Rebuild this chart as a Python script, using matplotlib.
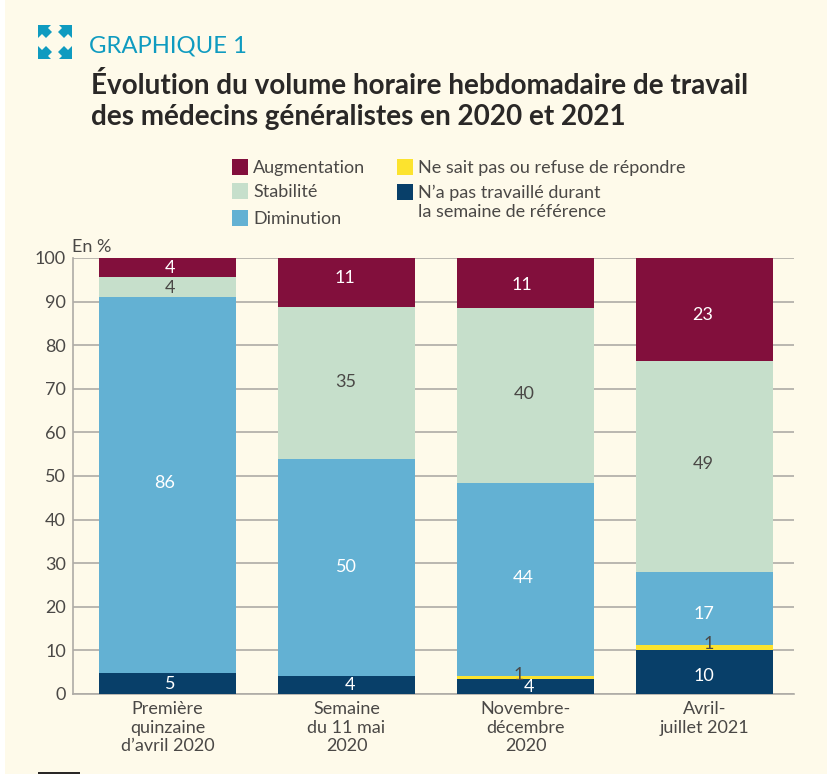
import matplotlib
matplotlib.use('Agg')
import matplotlib.pyplot as plt
from matplotlib.patches import Polygon, Rectangle

plt.rcParams['font.family'] = ['Lato', 'DejaVu Sans']

periods = ['Première\nquinzaine\nd\u2019avril 2020', 'Semaine\ndu 11 mai\n2020', 'Novembre-\ndécembre\n2020', 'Avril-\njuillet 2021']
absent = [4.8, 4.1, 3.4, 10.0]
no_answer = [0, 0, 0.8, 1.2]
decrease = [86.2, 49.8, 44.2, 16.8]
stable = [4.6, 34.9, 40.1, 48.4]
increase = [4.4, 11.2, 11.5, 23.6]

absent_labels = ['5', '4', '4', '10']
no_answer_labels = ['', '', '1', '1']
decrease_labels = ['86', '50', '44', '17']
stable_labels = ['4', '35', '40', '49']
increase_labels = ['4', '11', '11', '23']

# the labels are not centred in the original, nudge them (pixels)
absent_nudge = [(2.5, 0), (3.5, 0), (3.5, 0), (-0.5, -4)]
no_answer_nudge = [(0, 0), (0, 0), (-6.5, 2), (4.5, 4)]
decrease_nudge = [(-2.5, 2), (-0.5, 1), (-2.5, 1), (-0.5, -5)]
stable_nudge = [(2.5, -1), (-0.5, 1), (-1.5, 2), (-1.5, 2)]
increase_nudge = [(2.5, 0), (-1.5, 4), (-3.5, -2), (-1.5, -6)]

yticks = list(range(0, 101, 10))

W, H = 827, 774
CREAM = '#fefaea'
TEXT = '#4a4846'
GRID = '#aeaba6'
FS = 13


def fx(px):
    return px / W


def fy(py):
    return 1 - py / H


fig = plt.figure(figsize=(W / 100, H / 100), dpi=100, facecolor='white')
fig.patches.append(Rectangle((fx(5), 0), 1, 1, transform=fig.transFigure, facecolor=CREAM, edgecolor='none', zorder=-5))

ax = fig.add_axes([fx(73), fy(694), (794 - 73) / W, (694 - 258) / H])
ax.set_facecolor('none')
x = list(range(4))
width = 137 / 179
series = [
    (absent, '#083f69', absent_labels, 'white', absent_nudge),
    (no_answer, '#fce32e', no_answer_labels, TEXT, no_answer_nudge),
    (decrease, '#63b1d3', decrease_labels, 'white', decrease_nudge),
    (stable, '#c6dfcb', stable_labels, TEXT, stable_nudge),
    (increase, '#820f3c', increase_labels, 'white', increase_nudge),
]
bottom = [0, 0, 0, 0]
for values, color, labels, txt, nudge in series:
    ax.bar(x, values, width, bottom=bottom, color=color, zorder=3)
    for i in x:
        if labels[i]:
            ax.annotate(labels[i], (i, bottom[i] + values[i] / 2), xytext=(nudge[i][0] * 0.72, nudge[i][1] * 0.72),
                        textcoords='offset points', ha='center', va='center', color=txt, fontsize=FS, zorder=4)
    bottom = [b + v for b, v in zip(bottom, values)]

ax.set_xlim(-94.5 / 179, 626.5 / 179)
ax.set_ylim(0, 100)
ax.set_yticks(yticks)
ax.set_xticks(x)
ax.set_xticklabels(periods, fontsize=FS, color=TEXT, linespacing=1.2)
ax.tick_params(axis='x', length=0, pad=5)
ax.tick_params(axis='y', length=0, pad=5, labelsize=FS, labelcolor=TEXT)
ax.grid(axis='y', color=GRID, linewidth=1.2, zorder=1)
ax.set_axisbelow(True)
for side in ['top', 'right']:
    ax.spines[side].set_visible(False)
for side in ['left', 'bottom']:
    ax.spines[side].set_color(GRID)
    ax.spines[side].set_linewidth(1.2)

fig.text(fx(72), fy(247), 'En %', fontsize=FS, color=TEXT, va='center')

# header
fig.text(fx(89), fy(46), 'GRAPHIQUE 1', fontsize=17.2, color='#0f9bc0', va='center')
fig.text(fx(91), fy(85), 'Évolution du volume horaire hebdomadaire de travail', fontsize=20.1,
         fontweight='bold', color='#2a2827', va='center')
fig.text(fx(91), fy(117), 'des médecins généralistes en 2020 et 2021', fontsize=20.1,
         fontweight='bold', color='#2a2827', va='center')

# expand icon, four arrows pointing outward
arrow = [(38, 25), (51, 25), (48, 28), (52, 32), (46, 38), (42, 34), (38, 38)]
for sx, sy in [(0, 0), (1, 0), (0, 1), (1, 1)]:
    pts = []
    for px, py in arrow:
        qx = 110 - px if sx else px
        qy = 84 - py if sy else py
        pts.append((fx(qx), fy(qy)))
    fig.patches.append(Polygon(pts, closed=True, transform=fig.transFigure, facecolor='#0f9bc0', edgecolor='none'))

# legend
legend_items = [
    (232, 167, '#820f3c', 'Augmentation', 253),
    (232, 191, '#c6dfcb', 'Stabilité', 253),
    (232, 218, '#63b1d3', 'Diminution', 253),
    (397, 167, '#fce32e', 'Ne sait pas ou refuse de répondre', 418),
    (397, 192, '#083f69', 'N\u2019a pas travaillé durant', 418),
]
for px, py, color, label, tx in legend_items:
    fig.patches.append(Rectangle((fx(px), fy(py + 8)), 16 / W, 16 / H, transform=fig.transFigure,
                                 facecolor=color, edgecolor='none'))
    fig.text(fx(tx), fy(py + 1), label, fontsize=FS, color=TEXT, va='center')
fig.text(fx(418), fy(212), 'la semaine de référence', fontsize=FS, color=TEXT, va='center')

fig.patches.append(Rectangle((fx(38), 0), 42 / W, 2 / H, transform=fig.transFigure, facecolor='#2a2827', edgecolor='none'))

fig.savefig('out.png', dpi=100, facecolor=fig.get_facecolor())
